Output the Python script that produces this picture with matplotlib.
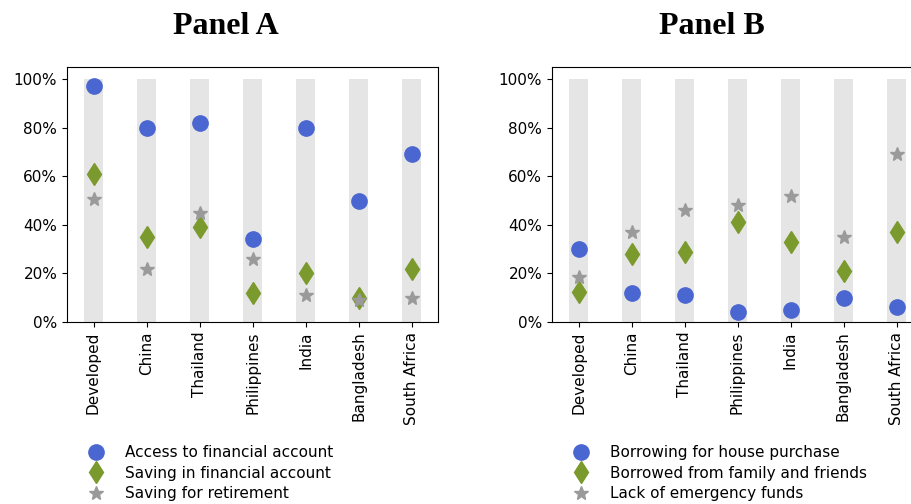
import matplotlib
matplotlib.use("Agg")
import matplotlib.pyplot as plt
from matplotlib.ticker import PercentFormatter
import numpy as np

categories = ["Developed", "China", "Thailand", "Philippines", "India", "Bangladesh", "South Africa"]

# Panel A
access_account = [0.97, 0.80, 0.82, 0.34, 0.80, 0.50, 0.69]
saving_account = [0.61, 0.35, 0.39, 0.12, 0.20, 0.10, 0.22]
saving_retirement = [0.505, 0.22, 0.45, 0.26, 0.11, 0.09, 0.10]

# Panel B
borrow_house = [0.30, 0.12, 0.11, 0.04, 0.05, 0.10, 0.06]
borrow_family = [0.125, 0.28, 0.29, 0.41, 0.33, 0.21, 0.37]
lack_emergency = [0.185, 0.37, 0.46, 0.48, 0.52, 0.35, 0.69]

labels_a = ["Access to financial account", "Saving in financial account", "Saving for retirement"]
labels_b = ["Borrowing for house purchase", "Borrowed from family and friends", "Lack of emergency funds"]

BLUE = "#4a66d0"
GREEN = "#7b9a2e"
GRAY = "#9a9a9a"
BAR = "#e5e5e5"

W, H = 911, 504
fig = plt.figure(figsize=(W / 100, H / 100), dpi=100)

def px_axes(left, right, top, bottom):
    return fig.add_axes([left / W, 1 - bottom / H, (right - left) / W, (bottom - top) / H])

ax_a = px_axes(67, 438, 67, 322)
ax_b = px_axes(552, 923, 67, 322)

def draw(ax, series, labels, title, title_x):
    x = np.arange(len(categories))
    ax.bar(x, [1.0] * len(categories), width=0.36, color=BAR, zorder=0)
    s1, s2, s3 = series
    ax.plot(x, s1, "o", color=BLUE, markersize=11, linestyle="none", label=labels[0], zorder=3)
    ax.plot(x, s2, "d", color=GREEN, markersize=11.5, linestyle="none", label=labels[1], zorder=3)
    ax.plot(x, s3, "*", color=GRAY, markersize=10.5, linestyle="none", label=labels[2], zorder=3)
    ax.set_xlim(-0.5, len(categories) - 0.5)
    ax.set_ylim(0, 1.05)
    ax.set_yticks(np.arange(0, 1.01, 0.2))
    ax.yaxis.set_major_formatter(PercentFormatter(1.0, decimals=0))
    ax.set_xticks(x)
    ax.set_xticklabels(categories, rotation=90)
    ax.tick_params(labelsize=11)
    ax.legend(loc="upper left", bbox_to_anchor=(-0.001, -0.43), frameon=False,
              fontsize=11, labelspacing=0.35, handletextpad=0.9)
    fig.text(title_x / W, 1 - 27 / H, title, ha="center", va="center",
             fontsize=23, fontweight="bold", family="Liberation Serif")

draw(ax_a, (access_account, saving_account, saving_retirement), labels_a, "Panel A", 226)
draw(ax_b, (borrow_house, borrow_family, lack_emergency), labels_b, "Panel B", 712)

fig.savefig("out.png", dpi=100)
